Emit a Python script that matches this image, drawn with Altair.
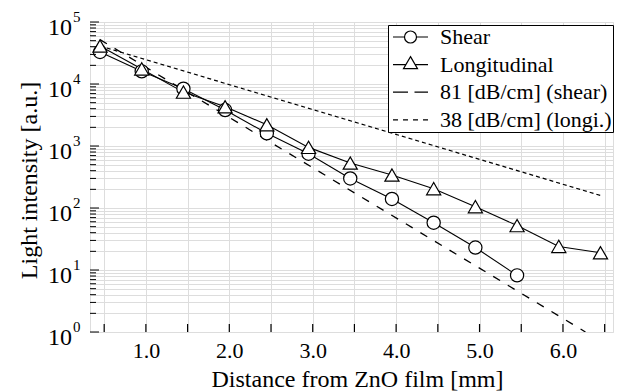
import altair as alt
import pandas as pd

# ---- data ----
shear_x = [0.45, 0.95, 1.45, 1.95, 2.45, 2.95, 3.45, 3.95, 4.45, 4.95, 5.45]
shear_y = [32800, 16000, 8400, 3800, 1600, 750, 300, 140, 58, 23, 8.2]
longi_x = [0.45, 0.95, 1.45, 1.95, 2.45, 2.95, 3.45, 3.95, 4.45, 4.95, 5.45, 5.95, 6.45]
longi_y = [41000, 17500, 7400, 4300, 2200, 950, 530, 340, 205, 105, 52, 24, 19]
fit81_x = [0.45, 6.27]
fit81_y = [52000, 1.0]
fit38_x = [0.45, 6.48]
fit38_y = [41000, 155]

x_tick_values = [0.5, 1.0, 1.5, 2.0, 2.5, 3.0, 3.5, 4.0, 4.5, 5.0, 5.5, 6.0, 6.5]
decades = [1, 10, 100, 1000, 10000, 100000]
exponents = ["0", "1", "2", "3", "4", "5"]
y_minor_values = [m * d for d in decades[:-1] for m in range(2, 10)]
y_tick_values = sorted(y_minor_values + decades)

legend_names = ["Shear", "Longitudinal", "81 [dB/cm] (shear)", "38 [dB/cm] (longi.)"]
legend_paths = [
    "M-0.7,0H0.45M1.65,0H2.8M1.65,0C1.65,0.331 1.381,0.6 1.05,0.6C0.719,0.6 0.45,0.331 0.45,0C0.45,-0.331 0.719,-0.6 1.05,-0.6C1.381,-0.6 1.65,-0.331 1.65,0Z",
    "M-0.7,0H0.583M1.517,0H2.8M1.05,-0.8L1.75,0.4L0.35,0.4Z",
    "M-0.7,0H0.8M1.45,0H2.8",
    "M-0.7,0H-0.2M0.3,0H0.8M1.3,0H1.8M2.3,0H2.8",
]

FONT = "Liberation Serif, Times New Roman, serif"
W, H = 523, 310

shear = pd.DataFrame({"x": shear_x, "y": shear_y})
longi = pd.DataFrame({"x": longi_x, "y": longi_y})
fit81 = pd.DataFrame({"x": fit81_x, "y": fit81_y})
fit38 = pd.DataFrame({"x": fit38_x, "y": fit38_y})
dec_df = pd.DataFrame({"y": decades, "e": exponents, "t": ["10"] * len(decades)})
ymin_df = pd.DataFrame({"y": y_minor_values})
ymaj_df = pd.DataFrame({"y": decades})
xt_df = pd.DataFrame({"x": x_tick_values})
leg_df = pd.DataFrame({"series": legend_names, "x": [-1.0] * 4, "y": [10.0] * 4})

xscale = alt.Scale(domain=[0.33, 6.6], nice=False, zero=False)
yscale = alt.Scale(type="log", domain=[1, 100000], nice=False)

xaxis = alt.Axis(
    values=x_tick_values,
    labelExpr="datum.value % 1 == 0 ? format(datum.value, '.1f') : ''",
    title="Distance from ZnO film [mm]",
    grid=True, ticks=False, tickSize=0, domain=False,
    labelFontSize=22, labelPadding=8, titleFontSize=24, titlePadding=6,
    titleX=267,
    labelFont=FONT, titleFont=FONT, labelColor="black", titleColor="black",
    titleFontWeight="normal",
)
yaxis = alt.Axis(
    values=y_tick_values, labels=False,
    title="Light intensity [a.u.]",
    grid=True, ticks=False, tickSize=0, domain=False,
    titleFontSize=24, titlePadding=49, titleY=158,
    titleFont=FONT, titleColor="black",
    titleFontWeight="normal",
)


def X(f="x"):
    return alt.X(f, type="quantitative", scale=xscale, axis=xaxis)


def Y(f="y"):
    return alt.Y(f, type="quantitative", scale=yscale, axis=yaxis)


line81 = alt.Chart(fit81).mark_line(
    color="black", strokeWidth=1.3, strokeDash=[8, 9], clip=True
).encode(x=X(), y=Y())
line38 = alt.Chart(fit38).mark_line(
    color="black", strokeWidth=1.2, strokeDash=[4, 3], clip=True
).encode(x=X(), y=Y())
shear_line = alt.Chart(shear).mark_line(color="black", strokeWidth=1.1).encode(x=X(), y=Y())
longi_line = alt.Chart(longi).mark_line(color="black", strokeWidth=1.1).encode(x=X(), y=Y())
shear_pts = alt.Chart(shear).mark_point(
    shape="circle", size=175, filled=True, fill="white", stroke="black",
    strokeWidth=1.2, opacity=1
).encode(x=X(), y=Y())
longi_pts = alt.Chart(longi).mark_point(
    shape="triangle-up", size=200, filled=True, fill="white", stroke="black",
    strokeWidth=1.2, opacity=1
).encode(x=X(), y=Y())

yticks_minor = alt.Chart(ymin_df).mark_rule(color="black", strokeWidth=1).encode(
    y=Y(), x=alt.value(0), x2=alt.value(6)
)
yticks_major = alt.Chart(ymaj_df).mark_rule(color="black", strokeWidth=1).encode(
    y=Y(), x=alt.value(0), x2=alt.value(9)
)
xticks = alt.Chart(xt_df).mark_rule(color="black", strokeWidth=1.2).encode(
    x=X(), y=alt.value(H - 8), y2=alt.value(H)
)

ylab10 = alt.Chart(dec_df).mark_text(
    align="right", baseline="alphabetic", fontSize=24, font=FONT, color="black", dy=13
).encode(y=Y(), x=alt.value(-18), text="t:N")
ylabexp = alt.Chart(dec_df).mark_text(
    align="left", baseline="alphabetic", fontSize=15, font=FONT, color="black", dy=0
).encode(y=Y(), x=alt.value(-17), text="e:N")

legend_layer = alt.Chart(leg_df).mark_point(
    filled=False, stroke="black", color="black", strokeWidth=1.2, size=400, clip=True
).encode(
    x=X(), y=Y(),
    shape=alt.Shape("series:N", sort=legend_names,
                    scale=alt.Scale(domain=legend_names, range=legend_paths),
                    legend=alt.Legend(
                        title=None, orient="none", legendX=298, legendY=3,
                        strokeColor="black", fillColor="white", padding=1,
                        symbolSize=400, symbolStrokeWidth=1.2,
                        symbolStrokeColor="black", symbolOpacity=1,
                        labelFont=FONT, labelFontSize=22, labelColor="black",
                        labelOffset=29, rowPadding=5.6, labelLimit=400,
                    )),
)

chart = alt.layer(
    line38, line81, shear_line, longi_line, shear_pts, longi_pts,
    yticks_minor, yticks_major, xticks, ylab10, ylabexp, legend_layer,
).properties(
    width=W, height=H,
    autosize=alt.AutoSizeParams(type="none"),
    padding={"left": 82, "top": 14, "right": 4, "bottom": 60},
).configure_view(
    stroke="black", strokeWidth=1.8
).configure_axis(
    gridColor="#9a9a9a", gridDash=[1, 2], gridWidth=0.8, gridOpacity=1
).configure(
    font=FONT
)

chart.save("out.html", embed_options={"renderer": "svg", "actions": False})
